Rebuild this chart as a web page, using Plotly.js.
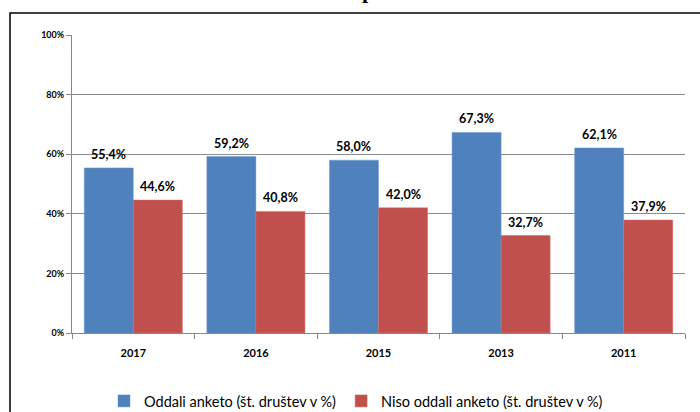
<!DOCTYPE html>
<html>
<head>
<meta charset="utf-8">
<script src="https://cdn.plot.ly/plotly-3.0.1.min.js"></script>
<style>html,body{margin:0;padding:0;background:#fff;}#chart{width:700px;height:412px;}</style>
</head>
<body>
<div id="chart"></div>
<script>
const categories = ["2017", "2016", "2015", "2013", "2011"];
const oddali = [55.4, 59.2, 58.0, 67.3, 62.1];
const nisoOddali = [44.6, 40.8, 42.0, 32.7, 37.9];
const seriesNames = ["Oddali anketo (št. društev v %)", "Niso oddali anketo (št. društev v %)"];
const yTicks = [0, 20, 40, 60, 80, 100];
const yTickText = ["0%", "20%", "40%", "60%", "80%", "100%"];

const W = 700, H = 412;
const L = 72, R = 15, T = 35, B = 79;
const pw = W - L - R, ph = H - T - B;
const px = x => (x - L) / pw;
const py = y => (H - B - y) / ph;
const barW = pw / categories.length * 0.8 / 2;

const fmt = v => v.toFixed(1).replace('.', ',') + '%';

const data = [
  {type: 'bar', x: categories, y: oddali, name: seriesNames[0], hoverinfo: 'skip',
   marker: {color: '#4F81BD', line: {color: '#6C9AD2', width: 0.5}}},
  {type: 'bar', x: categories, y: nisoOddali, name: seriesNames[1], hoverinfo: 'skip',
   marker: {color: '#C0504D', line: {color: '#D06A67', width: 0.5}}}
];

const labelFont = {family: 'Lato, sans-serif', size: 12.5, color: '#000', weight: 'bold'};
const annotations = [];
[[oddali, -barW / 2], [nisoOddali, barW / 2]].forEach(([vals, dx]) => {
  vals.forEach((v, i) => {
    annotations.push({xref: 'x', yref: 'y', x: i, y: v, text: fmt(v),
      xshift: dx, yshift: 4, yanchor: 'bottom', xanchor: 'center', showarrow: false, font: labelFont});
  });
});
annotations.push({text: 'p', xref: 'paper', yref: 'paper', x: px(368), y: py(5), xanchor: 'center', yanchor: 'bottom',
  showarrow: false, font: {family: 'Liberation Serif, serif', size: 22, color: '#000', weight: 'bold'}});

const layout = {
  width: W, height: H,
  margin: {l: L, r: R, t: T, b: B, autoexpand: false},
  paper_bgcolor: '#fff', plot_bgcolor: '#fff',
  barmode: 'group',
  bargap: 0.2,
  bargroupgap: 0,
  showlegend: true,
  legend: {orientation: 'h', x: px(356), xanchor: 'center', y: py(401), yanchor: 'middle',
    font: {family: 'Lato, sans-serif', size: 14.5, color: '#000'}, itemwidth: 30, traceorder: 'normal'},
  xaxis: {
    type: 'category', range: [-0.5, categories.length - 0.5], showgrid: false, zeroline: false,
    showline: true, linecolor: '#888', linewidth: 1,
    ticks: 'outside', tickson: 'boundaries', ticklen: 5, tickcolor: '#888',
    ticklabelstandoff: 10,
    tickfont: {family: 'Lato, sans-serif', size: 11, color: '#000', weight: 'bold'},
    fixedrange: true
  },
  yaxis: {
    range: [0, 100], tickmode: 'array', tickvals: yTicks, ticktext: yTickText,
    showgrid: true, gridcolor: '#8c8c8c', gridwidth: 1,
    zeroline: false, showline: true, linecolor: '#888', linewidth: 1,
    ticks: 'outside', ticklen: 5, tickcolor: '#888',
    tickfont: {family: 'Lato, sans-serif', size: 9, color: '#000', weight: 'bold'},
    fixedrange: true
  },
  shapes: [
    {type: 'rect', xref: 'paper', yref: 'paper', x0: px(10), x1: px(720), y0: py(430), y1: py(13),
     line: {color: '#000', width: 1.5}, fillcolor: 'rgba(0,0,0,0)', layer: 'above'}
  ],
  annotations: annotations
};

Plotly.newPlot('chart', data, layout, {displayModeBar: false, staticPlot: true});
</script>
</body>
</html>
